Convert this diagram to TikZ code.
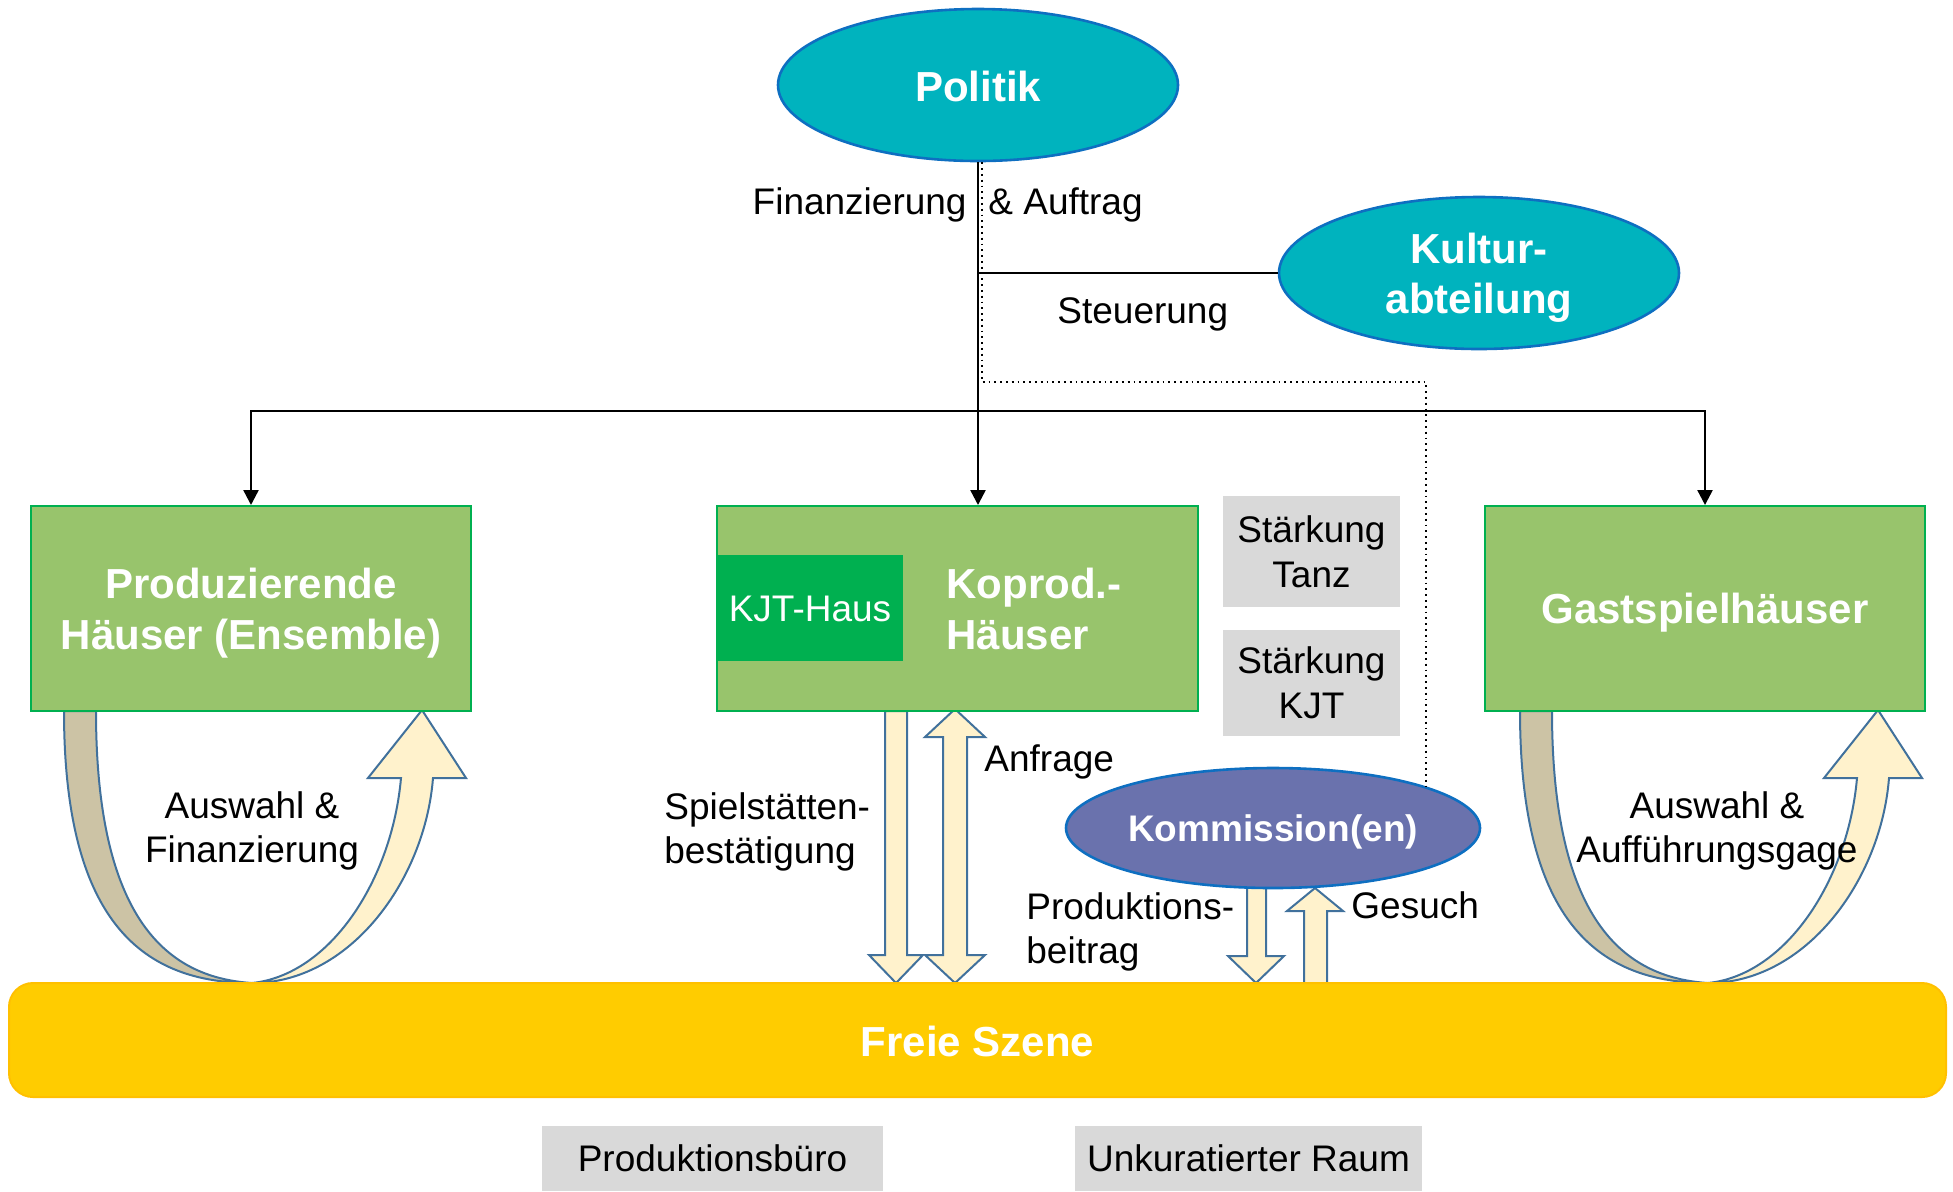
\documentclass[tikz,border=0pt]{standalone}
\usepackage{fontspec}
\setmainfont{Liberation Sans}
\usetikzlibrary{shapes.geometric,arrows.meta,calc}
\definecolor{tealc}{HTML}{00B3BE}
\definecolor{eblue}{HTML}{0E6FC1}
\definecolor{gfill}{HTML}{98C46C}
\definecolor{gborder}{HTML}{00B050}
\definecolor{kjtc}{HTML}{00B050}
\definecolor{greyc}{HTML}{D9D9D9}
\definecolor{kommc}{HTML}{6A72AD}
\definecolor{freiec}{HTML}{FFCC00}
\definecolor{freieb}{HTML}{FFC000}
\definecolor{brownc}{HTML}{CCC3A5}
\definecolor{creamc}{HTML}{FFF2CC}
\definecolor{ablue}{HTML}{41719C}
\begin{document}
\begin{tikzpicture}[x=0.5pt,y=-0.5pt,
  reg/.style={font=\fontsize{18.5pt}{22.4pt}\selectfont, inner sep=0pt},
  big/.style={font=\fontsize{21pt}{25.2pt}\selectfont\bfseries, text=white, align=center, inner sep=0pt},
  ell/.style={ellipse, draw=eblue, line width=1.3pt, fill=tealc, inner sep=0pt},
  gbox/.style={rectangle, draw=gborder, line width=1pt, fill=gfill, inner sep=0pt},
  grey/.style={rectangle, fill=greyc, inner sep=0pt, align=center, font=\fontsize{18.5pt}{22.4pt}\selectfont},
  conn/.style={line width=1.2pt, -{Triangle[width=7.5pt,length=7.5pt]}},
  blk/.style={draw=ablue, line width=1pt, line join=miter},
]
\useasboundingbox (0,0) rectangle (1953,1191);

% straight block arrows
\draw[blk, fill=creamc] (885,711) -- (885,955) -- (869,955) -- (896,983) -- (923,955) -- (907,955) -- (907,711) -- cycle;
\draw[blk, fill=creamc] (943,737) -- (943,955) -- (925,955) -- (955,983) -- (985,955) -- (967,955) -- (967,737) -- (985,737) -- (955,709) -- (925,737) -- cycle;
\draw[blk, fill=creamc] (1247,880) -- (1247,956) -- (1228,956) -- (1256,983) -- (1284,956) -- (1266,956) -- (1266,880) -- cycle;
\draw[blk, fill=creamc] (1304,983) -- (1304,911) -- (1287,911) -- (1315,888) -- (1343,911) -- (1327,911) -- (1327,983) -- cycle;

% curved u-turn arrows
\foreach \dx in {0,1456} {
  \begin{scope}[shift={(\dx,0)}]
    \draw[blk, fill=brownc] (64,711) .. controls (64,925) and (145,983) .. (252,983)
      .. controls (175,978) and (96,930) .. (96,711) -- cycle;
    \draw[blk, fill=creamc] (252,983) .. controls (350,983) and (425,880) .. (433,778)
      -- (466,778) -- (422,710) -- (368,778) -- (401,778)
      .. controls (392,880) and (330,975) .. (252,983) -- cycle;
  \end{scope}
}

% nodes (text placed as centred labels, nudged to match the reference)
\node[ell, minimum width=200pt, minimum height=76pt,
  label={[big, yshift=-0.6pt]center:{Politik}}] (politik) at (978,85) {};
\node[ell, minimum width=200pt, minimum height=76pt,
  label={[big, yshift=-2.4pt]center:{Kultur-\\abteilung}}] (kultur) at (1479,273) {};
\node[gbox, minimum width=220pt, minimum height=102.5pt,
  label={[big, yshift=-2.4pt]center:{Produzierende\\Häuser (Ensemble)}}] (prod) at (251,608.5) {};
\node[gbox, minimum width=240.5pt, minimum height=102.5pt] (koprod) at (957.5,608.5) {};
\node[rectangle, fill=kjtc, minimum width=93pt, minimum height=53pt, inner sep=0pt, text=white,
  font=\fontsize{18.5pt}{22.4pt}\selectfont, text depth=0pt, text height=13.3pt] (kjt) at (810,608) {KJT-Haus};
\node[big, anchor=west, align=left] (koprodtxt) at (946,609) {Koprod.-\\Häuser};
\node[gbox, minimum width=220pt, minimum height=102.5pt,
  label={[big, yshift=-2pt]center:{Gastspielhäuser}}] (gast) at (1705,608.5) {};
\node[grey, minimum width=88.5pt, minimum height=55.5pt] (tanz) at (1311.5,551.5) {Stärkung\\Tanz};
\node[grey, minimum width=88.5pt, minimum height=53pt] (kjtst) at (1311.5,683) {Stärkung\\KJT};
\node[ell, fill=kommc, minimum width=207pt, minimum height=60pt,
  label={[big, font=\fontsize{18.5pt}{22.4pt}\selectfont\bfseries, yshift=-2pt]center:{Kommission(en)}}] (komm) at (1273,828) {};
\node[rectangle, rounded corners=12pt, draw=freieb, line width=1pt, fill=freiec, minimum width=968.5pt, minimum height=57pt, inner sep=0pt,
  label={[big, yshift=-0.6pt]center:{Freie Szene}}] (freie) at (977.5,1040) {};
\node[grey, minimum width=170.5pt, minimum height=32.5pt] (pb) at (712.5,1158.5) {Produktionsbüro};
\node[grey, minimum width=173.5pt, minimum height=32.5pt] (ur) at (1248.5,1158.5) {Unkuratierter Raum};

% connectors
\coordinate (ylev) at (0,411);
\coordinate (split) at (politik.south |- ylev);
\draw[conn] (politik.south) -- (politik.south |- koprod.north);
\draw[conn] (split) -| (prod.north);
\draw[conn] (split) -| (gast.north);
\draw[line width=1.2pt] (kultur.west) -- (kultur.west -| politik.south);
\coordinate (dA) at ($(politik.south)+(4,0)$);
\coordinate (dB) at (1426,382);
\draw[dotted, line width=0.9pt] (dA) |- (dB) -- (dB |- komm.15);

% labels
\node[reg, anchor=base east] (lfin) at (967,214) {Finanzierung};
\node[reg, anchor=base west] (lauf) at (988,214) {\& Auftrag};
\node[reg, anchor=base west] (lst) at (1057,323) {Steuerung};
\node[reg, align=center] (law1) at (252,831) {Auswahl \&\\Finanzierung};
\node[reg, align=center] (law2) at (1717,831) {Auswahl \&\\Aufführungsgage};
\node[reg, align=left, anchor=west] (lsp) at (664,832) {Spielstätten-\\bestätigung};
\node[reg, anchor=base west] (lanf) at (984,771) {Anfrage};
\node[reg, align=left, anchor=west] (lprod) at (1026,932) {Produktions-\\beitrag};
\node[reg, anchor=base west] (lges) at (1351,918) {Gesuch};
\end{tikzpicture}
\end{document}
